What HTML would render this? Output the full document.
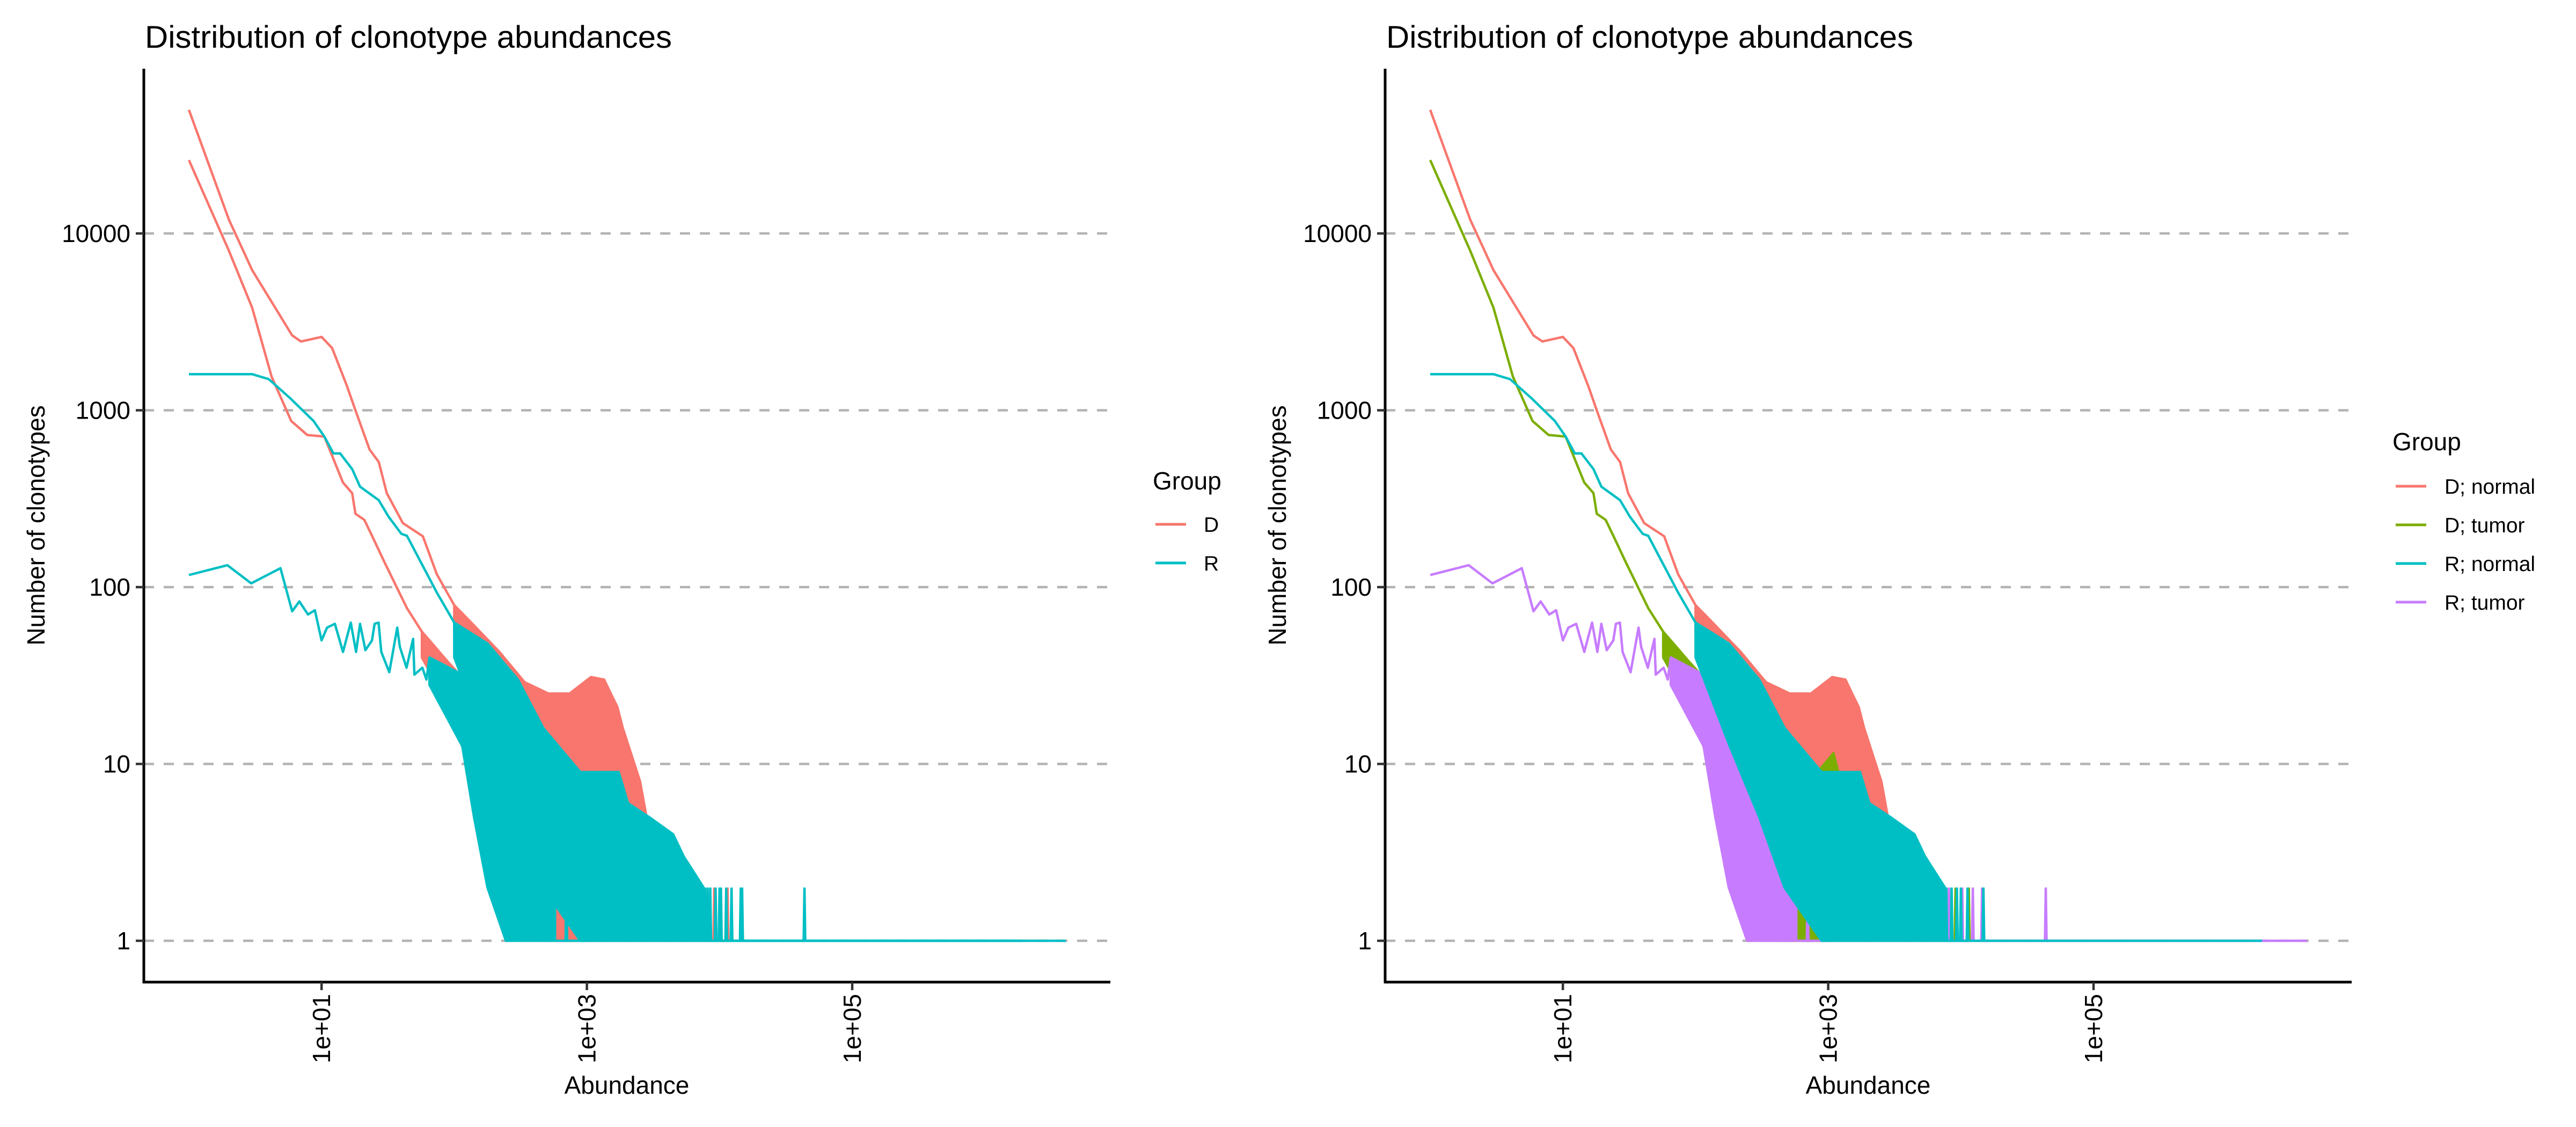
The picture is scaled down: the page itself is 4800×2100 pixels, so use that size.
<!DOCTYPE html>
<html><head><meta charset="utf-8">
<style>
html,body{margin:0;padding:0;background:#fff;}
svg{display:block;font-family:"Liberation Sans",Arial,sans-serif;}
</style></head>
<body>
<svg id="chart" width="4800" height="2100" viewBox="0 0 4800 2100" xmlns="http://www.w3.org/2000/svg">
<rect width="4800" height="2100" fill="#fff"/>
</svg>
<script>
// ---- data (abundance, number of clonotypes) ----
const yTicks = [1, 10, 100, 1000, 10000];
const yTickLabels = ["1", "10", "100", "1000", "10000"];
const xTicks = [10, 1000, 100000];
const xTickLabels = ["1e+01", "1e+03", "1e+05"];

// D; normal
const dnX = [1, 2, 3, 6, 7, 10, 12, 15.5, 18, 23, 27, 31, 41, 58, 74, 100];
const dnY = [50000, 12000, 6200, 2650, 2450, 2600, 2250, 1380, 1000, 600, 510, 340, 230, 194, 118, 79];
const dnBandX = [100, 129, 219, 339, 513, 741, 1072, 1349, 1514, 1698, 1862, 2188, 2512, 2818];
const dnBandHi = [79, 65, 43, 29, 25, 25, 31, 30, 25, 21, 16, 11, 8, 5];
const dnBandLo = [56, 32, 16, 8, 5.6, 5, 5, 5, 5, 4.5, 4, 3.2, 3, 3];
const dnSpikes = [];
const dnEnd = 2818;

// D; tumor
const dtX = [1, 2, 3, 4.2, 5.9, 7.8, 10.5, 14.5, 17, 18, 21, 24, 30, 44, 57];
const dtY = [26000, 8000, 3800, 1550, 870, 725, 710, 390, 340, 260, 240, 195, 137, 76, 56];
const dtBandX = [57, 89, 141, 178, 269, 398, 631, 1096, 1349, 1778];
const dtBandHi = [56, 38, 26, 19, 12, 8, 7, 11.5, 6.3, 3];
const dtBandLo = [40, 22, 8, 4, 1.6, 1, 1, 1, 1, 1];
const dtSpikes = [9120, 11482];
const dtEnd = 11482;

// R; normal
const rnX = [1, 3, 4, 5.8, 8.7, 10.5, 12.3, 13.8, 17, 19.5, 27, 32, 40, 44, 74, 100];
const rnY = [1600, 1600, 1500, 1170, 870, 710, 570, 570, 465, 370, 310, 250, 200, 195, 93, 63];
const rnBandX = [100, 178, 302, 468, 891, 1738, 2042, 2951, 4467, 5370, 7586];
const rnBandHi = [63, 48, 30, 16, 9, 9, 6, 5, 4, 3, 2];
const rnBandLo = [40, 13, 5, 2, 1, 1, 1, 1, 1, 1, 1];
const rnSpikes = [7762, 8511, 9333, 10000, 11220, 14791];
const rnEnd = 1860000;

// R; tumor
const rtX = [1, 1.95, 2.95, 4.9, 6, 6.8, 7.9, 8.9, 10, 11, 12.6, 14.5, 16.6, 18.2, 19.5, 21.4, 24, 25.1, 26.9, 28.2, 32.4, 37.2, 38.9, 43.7, 49, 50.1, 57.5, 61.7, 65];
const rtY = [117, 133, 105, 128, 73, 83, 70, 74, 50, 59, 62, 43, 63, 43, 62, 44, 50, 62, 63, 43, 33, 59, 46, 35, 51, 32, 35, 30, 40];
const rtBandX = [65, 115, 141, 178, 245, 269, 398, 575];
const rtBandHi = [40, 32, 22, 12, 8.5, 6, 4, 2];
const rtBandLo = [28, 12.6, 5, 2, 1, 1, 1, 1];
const rtSpikes = [700, 900, 1500, 2500, 8128, 10233, 12303, 14454, 43650];
const rtEnd = 4070000;

// ---- layout ----
const NS = "http://www.w3.org/2000/svg";
const svg = document.getElementById("chart");
const AX_L = 268, AX_R = 2069, AX_T = 128, AX_B = 1830;
const X0 = 352, XDEC = 247.2, Y0 = 1753, YDEC = 329.5;
function xs(v, off) { return off + X0 + XDEC * Math.log10(v); }
function ys(v) { return Y0 - YDEC * Math.log10(v); }
function mk(tag, attrs, parent) {
  const e = document.createElementNS(NS, tag);
  for (const k in attrs) e.setAttribute(k, attrs[k]);
  (parent || svg).appendChild(e);
  return e;
}
function txt(str, attrs, parent) { const t = mk("text", attrs, parent); t.textContent = str; return t; }

const series = [
  {key: "dn", x: dnX, y: dnY, bx: dnBandX, bh: dnBandHi, bl: dnBandLo, sp: dnSpikes, end: dnEnd},
  {key: "dt", x: dtX, y: dtY, bx: dtBandX, bh: dtBandHi, bl: dtBandLo, sp: dtSpikes, end: dtEnd},
  {key: "rt", x: rtX, y: rtY, bx: rtBandX, bh: rtBandHi, bl: rtBandLo, sp: rtSpikes, end: rtEnd},
  {key: "rn", x: rnX, y: rnY, bx: rnBandX, bh: rnBandHi, bl: rnBandLo, sp: rnSpikes, end: rnEnd}
];

function drawSeries(s, off, color, g) {
  let d = "";
  s.x.forEach((v, i) => { d += (i ? "L" : "M") + xs(v, off).toFixed(1) + "," + ys(s.y[i]).toFixed(1); });
  const line = mk("path", {d: d, fill: "none", stroke: color, "stroke-width": 4.5, "stroke-linejoin": "round"}, g);
  
  
  let p = "";
  s.bx.forEach((v, i) => { p += (i ? "L" : "M") + xs(v, off).toFixed(1) + "," + ys(s.bh[i]).toFixed(1); });
  for (let i = s.bx.length - 1; i >= 0; i--) p += "L" + xs(s.bx[i], off).toFixed(1) + "," + ys(s.bl[i]).toFixed(1);
  p += "Z";
  const band = mk("path", {d: p, fill: color, stroke: color, "stroke-width": 4.5, "stroke-linejoin": "round"}, g);
  
  
  let sd = "";
  s.sp.forEach(v => { const x = xs(v, off); sd += "M" + (x - 1.5).toFixed(1) + "," + ys(1).toFixed(1) + "L" + x.toFixed(1) + "," + ys(2).toFixed(1) + "L" + (x + 1.5).toFixed(1) + "," + ys(1).toFixed(1); });
  const lastBand = s.bx[s.bx.length - 1];
  if (s.end > lastBand) sd += "M" + xs(lastBand, off).toFixed(1) + "," + ys(1).toFixed(1) + "L" + xs(s.end, off).toFixed(1) + "," + ys(1).toFixed(1);
  if (sd) {
    const sp = mk("path", {d: sd, fill: "none", stroke: color, "stroke-width": 4.5}, g);
    
    
  }
}

function drawPanel(off, colors, legendItems, legendPos, pname) {
  const g = mk("g", {});
  
  
  const title = txt("Distribution of clonotype abundances", {x: off + 270, y: 89, "font-size": 58, fill: "#000", textLength: 982, lengthAdjust: "spacingAndGlyphs"}, g);
  
  
  yTicks.forEach((v, i) => {
    const gl = mk("line", {x1: off + AX_L, x2: off + AX_R, y1: ys(v), y2: ys(v), stroke: "#b3b3b3", "stroke-width": 4.5, "stroke-dasharray": "19 18"}, g);
    
    
  });
  series.forEach(s => drawSeries(s, off, colors[s.key], g));
  const ya = mk("line", {x1: off + AX_L, x2: off + AX_L, y1: AX_T, y2: AX_B + 2, stroke: "#000", "stroke-width": 5}, g);
  
  
  const xa = mk("line", {x1: off + AX_L - 2, x2: off + AX_R, y1: AX_B, y2: AX_B, stroke: "#000", "stroke-width": 5}, g);
  
  
  yTicks.forEach((v, i) => {
    const tk = mk("line", {x1: off + AX_L - 15, x2: off + AX_L, y1: ys(v), y2: ys(v), stroke: "#333", "stroke-width": 4.5}, g);
    
    
    const lb = txt(yTickLabels[i], {x: off + 243, y: ys(v) + 16, "text-anchor": "end", "font-size": 46, fill: "#000"}, g);
    
    
  });
  xTicks.forEach((v, i) => {
    const x = xs(v, off);
    const tk = mk("line", {x1: x, x2: x, y1: AX_B, y2: AX_B + 15, stroke: "#333", "stroke-width": 4.5}, g);
    
    
    const lb = txt(xTickLabels[i], {x: 0, y: 0, "text-anchor": "end", "font-size": 46, fill: "#000", transform: "translate(" + (x + 16) + "," + 1852 + ") rotate(-90)"}, g);
    
    
  });
  const xt = txt("Abundance", {x: off + 1168, y: 2038, "text-anchor": "middle", "font-size": 46, fill: "#000"}, g);
  
  
  const yt = txt("Number of clonotypes", {x: 0, y: 0, "text-anchor": "middle", "font-size": 46, fill: "#000", transform: "translate(" + (off + 83) + ",979) rotate(-90)"}, g);
  
  
  const lg = mk("g", {}, g);
  
  
  const lt = txt("Group", {x: legendPos.tx, y: legendPos.ty, "font-size": 46, fill: "#000"}, lg);
  
  
  legendItems.forEach((it, i) => {
    const y = legendPos.ky + i * 72;
    const ln = mk("line", {x1: legendPos.kx, x2: legendPos.kx + 57, y1: y, y2: y, stroke: it.color, "stroke-width": 5}, lg);
    
    
    const lb = txt(it.label, {x: legendPos.lx, y: y + 14, "font-size": 39, fill: "#000"}, lg);
    
    
  });
}

const RED = "#F8766D", GREEN = "#7CAE00", CYAN = "#00BFC4", PURPLE = "#C77CFF";
drawPanel(0, {dn: RED, dt: RED, rn: CYAN, rt: CYAN},
  [{label: "D", color: RED}, {label: "R", color: CYAN}],
  {tx: 2148, ty: 912, kx: 2153, ky: 977, lx: 2243}, "left-panel");
drawPanel(2313, {dn: RED, dt: GREEN, rn: CYAN, rt: PURPLE},
  [{label: "D; normal", color: RED}, {label: "D; tumor", color: GREEN}, {label: "R; normal", color: CYAN}, {label: "R; tumor", color: PURPLE}],
  {tx: 4458, ty: 839, kx: 4464, ky: 906, lx: 4555}, "right-panel");
</script>
</body></html>
